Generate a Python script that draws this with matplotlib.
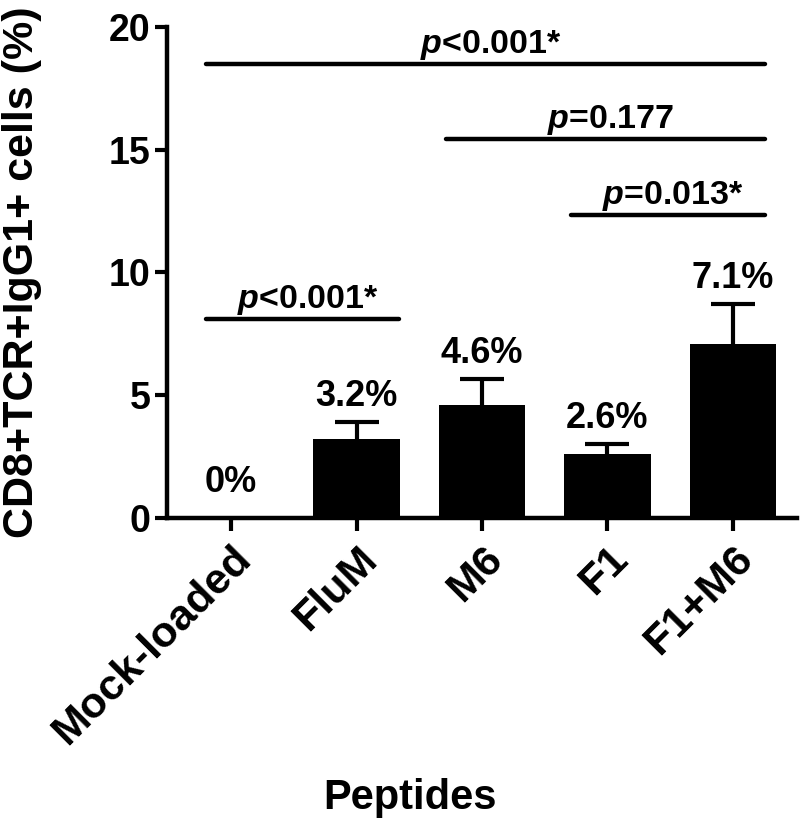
import matplotlib
matplotlib.use("Agg")
import matplotlib.pyplot as plt
import numpy as np

# data
peptides = ["Mock-loaded", "FluM", "M6", "F1", "F1+M6"]
percent = [0.0, 3.2, 4.6, 2.6, 7.1]
sem = [0.0, 0.7, 1.05, 0.4, 1.6]
value_labels = ["0%", "3.2%", "4.6%", "2.6%", "7.1%"]

# significance brackets: (start group, end group, height, label)
sig_from = [0, 2, 3, 0]
sig_to = [4, 4, 4, 1]
sig_y = [18.5, 15.45, 12.35, 8.1]
sig_text = [r"$p$<0.001*", r"$p$=0.177", r"$p$=0.013*", r"$p$<0.001*"]

plt.rcParams["font.family"] = ["Liberation Sans", "DejaVu Sans"]
plt.rcParams["font.weight"] = "bold"
plt.rcParams["mathtext.fontset"] = "custom"
plt.rcParams["mathtext.it"] = "Liberation Sans:italic:bold"
plt.rcParams["mathtext.rm"] = "Liberation Sans:bold"

fig = plt.figure(figsize=(8, 8.27), dpi=100)
ax = fig.add_axes([0.209, 0.3737, 0.787, 0.5937])

x = np.arange(len(peptides))
ax.bar(x, percent, width=0.69, color="black", zorder=2)

# upward-only error bars, skip the empty mock group
has_err = np.array(sem) > 0
_, caps, _ = ax.errorbar(x[has_err], np.array(percent)[has_err],
                         yerr=[np.zeros(has_err.sum()), np.array(sem)[has_err]],
                         fmt="none", ecolor="black", elinewidth=3, capsize=16,
                         capthick=3, zorder=1)
# hide the cap sitting on the bar top (lower one)
if len(caps) == 2:
    low = min(caps, key=lambda c: np.mean(c.get_ydata()))
    low.set_visible(False)

for xi, v, e, lab in zip(x, percent, sem, value_labels):
    top = max(v + e, 0.4)
    ax.text(xi, top + 0.65, lab, ha="center", va="baseline",
            fontsize=26, fontweight="bold")

for a, b, y, t in zip(sig_from, sig_to, sig_y, sig_text):
    x0 = a - 0.2 if a == 0 else a - 0.29
    x1 = b + 0.34 if b == 1 else b + 0.26
    ax.plot([x0, x1], [y, y], color="black", lw=3.2,
            solid_capstyle="round", clip_on=False)
    ax.text((x0 + x1) / 2 + 0.04, y + 0.45, t,
            ha="center", va="baseline", fontsize=24.5, fontweight="bold")

ax.set_xlim(-0.51, 4.51)
ax.set_ylim(0, 20)
ax.set_yticks([0, 5, 10, 15, 20])
ax.set_xticks(x)
ax.set_xticklabels(peptides, rotation=45, ha="right",
                   rotation_mode="anchor", fontsize=31, fontweight="bold")
ax.tick_params(axis="y", labelsize=27, width=3, length=9, pad=3)
ax.tick_params(axis="x", width=3, length=9, pad=6)
for lbl in ax.get_yticklabels():
    lbl.set_fontweight("bold")

for side in ["top", "right"]:
    ax.spines[side].set_visible(False)
for side in ["left", "bottom"]:
    ax.spines[side].set_linewidth(3.2)

fig.text(22 / 800, 1 - 272 / 827, "CD8+TCR+IgG1+ cells (%)", rotation=90,
         ha="center", va="center", fontsize=31, fontweight="bold")
fig.text(410 / 800, 1 - 798 / 827, "Peptides", ha="center", va="center",
         fontsize=30, fontweight="bold")

fig.savefig("out.png", dpi=100)
